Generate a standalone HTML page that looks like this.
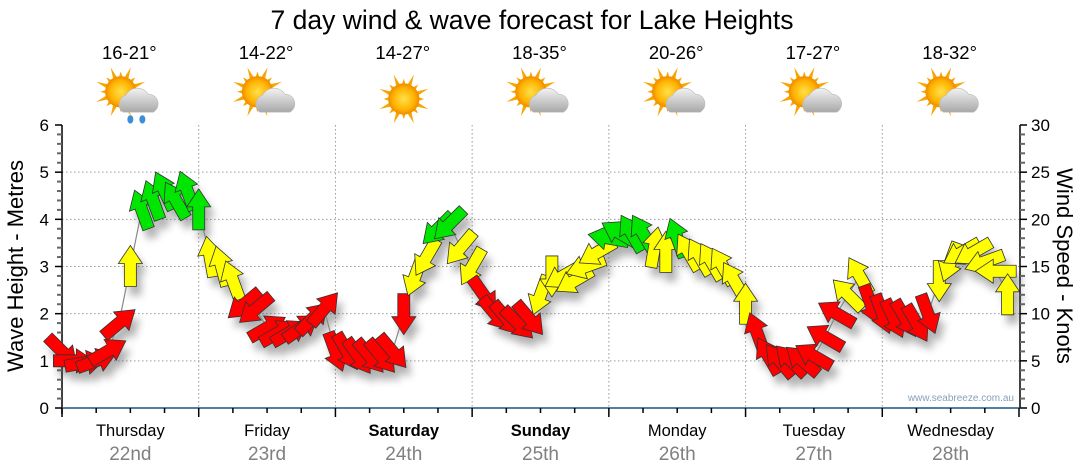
<!DOCTYPE html>
<html><head><meta charset="utf-8">
<style>
html,body{margin:0;padding:0;background:#fff;}
svg{display:block;font-family:"Liberation Sans","DejaVu Sans",sans-serif;}
</style></head>
<body>
<svg id="chart" width="1080" height="475" viewBox="0 0 1080 475" xmlns="http://www.w3.org/2000/svg">
<defs>
<filter id="shadow" x="-50%" y="-50%" width="200%" height="200%"><feGaussianBlur stdDeviation="4"/></filter>
<radialGradient id="sunG" cx="50%" cy="50%" r="50%"><stop offset="0%" stop-color="#ffe14a"/><stop offset="70%" stop-color="#ffb300"/><stop offset="100%" stop-color="#f08a00"/></radialGradient>
<linearGradient id="cloudG" x1="0" y1="0" x2="0" y2="1"><stop offset="0%" stop-color="#f2f2f2"/><stop offset="100%" stop-color="#a8a8a8"/></linearGradient>
</defs>
<text x="532" y="29" font-size="26.5" text-anchor="middle" fill="#000">7 day wind &amp; wave forecast for Lake Heights</text>
<g id="grid"></g>
<g id="axes"></g>
<g id="icons"></g>
<g id="shadows" filter="url(#shadow)" opacity="0.45"></g>
<polyline id="speedline" fill="none" stroke="#888" stroke-width="1.2"/>
<g id="arrows"></g>
<text transform="translate(23,266) rotate(-90)" font-size="22" text-anchor="middle" fill="#000">Wave Height - Metres</text>
<text transform="translate(1057,266) rotate(90)" font-size="22" text-anchor="middle" fill="#000">Wind Speed - Knots</text>
<text x="1014" y="401" font-size="10" text-anchor="end" fill="#8aa0b8">www.seabreeze.com.au</text>
</svg>
<script>
const days=["Thursday","Friday","Saturday","Sunday","Monday","Tuesday","Wednesday"];
const dates=["22nd","23rd","24th","25th","26th","27th","28th"];
const boldDays=[false,false,true,true,false,false,false];
const temps=["16-21°","14-22°","14-27°","18-35°","20-26°","17-27°","18-32°"];
const weather=["showers","cloudy","sunny","cloudy","cloudy","cloudy","cloudy"];
const waveTicks=[0,1,2,3,4,5,6];
const knotTicks=[0,5,10,15,20,25,30];
const hours=[0,2,4,6,8,10,12,14,16,18,20,22,24,26,28,30,32,34,36,38,40,42,44,46,48,50,52,54,56,58,60,62,64,66,68,70,72,74,76,78,80,82,84,86,88,90,92,94,96,98,100,102,104,106,108,110,112,114,116,118,120,122,124,126,128,130,132,134,136,138,140,142,144,146,148,150,152,154,156,158,160,162,164,166];
const speeds=[6,5,4.8,5,6,9,15,21,22,23,22,23,21,16,15,13.5,11,10.5,8.5,8,8,8.5,9.5,10.5,6,6,5.5,5.5,5.5,6,10,14,16,19,19.5,17,15,12,10,9.5,9,9.5,12,14,14,13.5,15,16.5,18,18.5,18.5,18.5,17,16.5,18,16.5,16,15.5,15,13.5,11,8,5.5,5,5,5,5.5,7.5,10,12,14,11,10,9.5,9.5,9,10,13.5,15.5,16.5,16.5,15.5,14.5,12,9];
const directions=[135,90,80,70,60,50,0,-20,-20,-25,-30,-20,0,-10,-15,-20,230,230,60,60,60,55,45,40,160,150,145,140,140,140,180,200,210,225,225,220,210,145,140,140,135,140,200,180,240,240,250,240,280,300,330,330,10,0,-20,-30,-30,-30,-30,-30,0,-20,-30,-40,-45,-50,-60,-60,-60,-45,-30,160,160,155,150,150,160,180,200,240,240,250,270,0,70];
const colorCodes=["r","r","r","r","r","r","y","g","g","g","g","g","g","y","y","y","r","r","r","r","r","r","r","r","r","r","r","r","r","r","r","y","y","g","g","y","y","r","r","r","r","r","y","y","y","y","y","y","g","g","g","g","y","y","g","y","y","y","y","y","y","r","r","r","r","r","r","r","r","y","y","r","r","r","r","r","r","y","y","y","y","y","y","y","r"];
const palette={r:"#ff0000",y:"#ffff00",g:"#00e600"};

const NS="http://www.w3.org/2000/svg";
const X0=62,X1=1019,Y0=408,Y1=125;
const xScale=h=>X0+h*(X1-X0)/168;
const yWave=m=>Y0-m*(Y0-Y1)/6;
const yKnot=k=>Y0-k*(Y0-Y1)/30;
function mk(tag,attrs,parent,text){const e=document.createElementNS(NS,tag);for(const k in attrs)e.setAttribute(k,attrs[k]);if(text!==undefined)e.textContent=text;parent.appendChild(e);return e;}
const grid=document.getElementById('grid'),axes=document.getElementById('axes'),icons=document.getElementById('icons');

waveTicks.forEach(m=>{if(m>0&&m<6){const l=mk('line',{x1:X0,x2:X1,y1:yWave(m),y2:yWave(m),stroke:'#999','stroke-dasharray':'1.5,2.5','stroke-width':1},grid);

}});
for(let d=1;d<7;d++){const x=xScale(d*24);const l=mk('line',{x1:x,x2:x,y1:Y1,y2:Y0,stroke:'#999','stroke-dasharray':'1.5,2.5','stroke-width':1},grid);

}

const la=mk('line',{x1:X0,x2:X0,y1:Y1,y2:Y0+6,stroke:'#000','stroke-width':1.5},axes);


const ra=mk('line',{x1:1020,x2:1020,y1:Y1,y2:Y0,stroke:'#000','stroke-width':1.5},axes);


const ba=mk('line',{x1:X0,x2:1020,y1:Y0,y2:Y0,stroke:'#1f5480','stroke-width':1.5},axes);


for(let i=0;i<=30;i++){const m=i*0.2;const y=yWave(m);const major=i%5===0;mk('line',{x1:major?X0-7:X0-5,x2:X0,y1:y,y2:y,stroke:major?'#000':'#666','stroke-width':major?1.5:2},axes);}
waveTicks.forEach(m=>{const t=mk('text',{x:49,y:yWave(m)+6,'font-size':17,'text-anchor':'end',fill:'#000'},axes,String(m));

});
for(let k=0;k<=30;k++){const y=yKnot(k);const major=k%5===0;mk('line',{x1:1020,x2:major?1027:1025,y1:y,y2:y,stroke:major?'#000':'#666','stroke-width':major?1.5:2},axes);}
knotTicks.forEach(k=>{const t=mk('text',{x:1031,y:yKnot(k)+6,'font-size':17,fill:'#000'},axes,String(k));

});
for(let h=0;h<=168;h+=6){const x=xScale(h);const major=h%24===0;mk('line',{x1:x,x2:x,y1:Y0,y2:Y0+(major?9:5),stroke:'#000','stroke-width':1.5},axes);}

days.forEach((d,i)=>{const cx=xScale(i*24+12);
const t=mk('text',{x:cx,y:436,'font-size':16.5,'text-anchor':'middle',fill:'#000','font-weight':boldDays[i]?'bold':'normal'},axes,d);


const dt=mk('text',{x:cx,y:460,'font-size':19,'text-anchor':'middle',fill:'#808080'},axes,dates[i]);


const tt=mk('text',{x:cx-1,y:59,'font-size':18.5,'text-anchor':'middle',fill:'#000'},icons,temps[i]);


const g=mk('g',{transform:`translate(${cx},99) scale(1.2)`},icons);


const sx=weather[i]==='sunny'?0:-8, sy=weather[i]==='sunny'?0:-6;
for(let a=0;a<16;a++){const ang=a*Math.PI/8;const r1=11,r2=a%2?22:17;
mk('polygon',{points:`${sx+Math.cos(ang-0.18)*r1},${sy+Math.sin(ang-0.18)*r1} ${sx+Math.cos(ang)*r2},${sy+Math.sin(ang)*r2} ${sx+Math.cos(ang+0.18)*r1},${sy+Math.sin(ang+0.18)*r1}`,fill:'#f7a600'},g);}
mk('circle',{cx:sx,cy:sy,r:13,fill:'url(#sunG)'},g);
if(weather[i]!=='sunny'){
mk('path',{d:'M-6,11 a8,8 0 0 1 2,-14 a11,11 0 0 1 19,-1 a8,8 0 0 1 4,15 z',fill:'url(#cloudG)',stroke:'#bbb','stroke-width':0.5},g);
if(weather[i]==='showers'){mk('ellipse',{cx:0,cy:17,rx:2.5,ry:3.5,fill:'#3a8fd8'},g);mk('ellipse',{cx:10,cy:17,rx:2.5,ry:3.5,fill:'#3a8fd8'},g);}
}});

const arrowsG=document.getElementById('arrows'),shadowsG=document.getElementById('shadows');
const arrowPts="0,-21 12,-3 6,-3 6,20 -6,20 -6,-3 -12,-3";
const linePts=[];
hours.forEach((h,i)=>{const x=xScale(h),y=yKnot(speeds[i]);linePts.push(x+','+y);
mk('polygon',{points:arrowPts,fill:'#555',transform:`translate(${x+5},${y+9}) rotate(${directions[i]})`},shadowsG);
const a=mk('polygon',{points:arrowPts,fill:palette[colorCodes[i]],stroke:'#333','stroke-width':0.8,transform:`translate(${x},${y}) rotate(${directions[i]})`},arrowsG);


});
document.getElementById('speedline').setAttribute('points',linePts.join(' '));
</script>
</body></html>
